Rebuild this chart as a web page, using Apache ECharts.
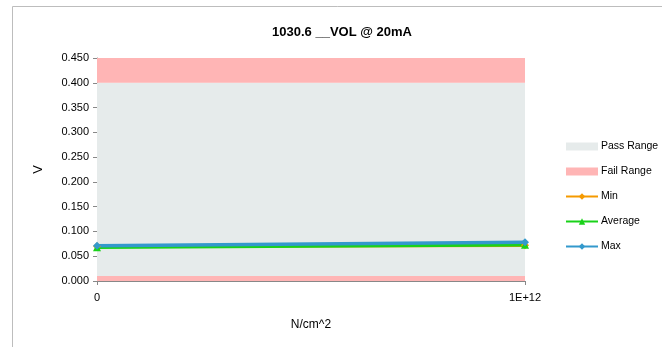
<!DOCTYPE html>
<html>
<head>
    <meta charset='utf-8'>
    <script src="https://cdn.jsdelivr.net/npm/echarts@6/dist/echarts.min.js"></script>
</head>
<body>
<style>
    html, body, #main {
        width: 100%;
        height: 100%;
        margin: 0;
        padding: 0;
        background: #fff;
    }
</style>
<div id="main"></div>
<script>
    var categories = ['0', '1E+12'];
    var failLow = [0.01, 0.01];
    var passBand = [0.39, 0.39];
    var failHigh = [0.05, 0.05];
    var minVals = [0.070, 0.072];
    var avgVals = [0.068, 0.073];
    var maxVals = [0.071, 0.078];

    var chart = echarts.init(document.getElementById('main'));

    var font = 'Liberation Sans';

    function band(name, data, color) {
        return {
            name: name,
            type: 'line',
            stack: 'range',
            data: data,
            symbol: 'none',
            lineStyle: { width: 0 },
            areaStyle: { color: color, opacity: 1 },
            itemStyle: { color: color },
            silent: true,
            z: 1
        };
    }

    function line(name, data, color, symbol) {
        return {
            name: name,
            type: 'line',
            data: data,
            symbol: symbol,
            symbolSize: 8,
            lineStyle: { width: 3.5, color: color },
            itemStyle: { color: color },
            z: 3
        };
    }

    chart.setOption({
        animation: false,
        title: {
            text: '1030.6 __VOL @ 20mA',
            left: 337,
            textAlign: 'center',
            top: 21,
            textStyle: { fontFamily: font, fontSize: 13, fontWeight: 'bold', color: '#000' }
        },
        graphic: [{
            type: 'polyline',
            shape: { points: [[12.5, 347], [12.5, 6.5], [662, 6.5]] },
            style: { stroke: '#bdbdbd', fill: null, lineWidth: 1 }
        }],
        legend: {
            orient: 'vertical',
            left: 560,
            top: 136,
            itemGap: 14,
            itemWidth: 32,
            itemHeight: 8,
            textStyle: { fontFamily: font, fontSize: 10.5, color: '#000', padding: [0, 0, 0, -2] },
            data: [
                { name: 'Pass Range', icon: 'rect' },
                { name: 'Fail Range', icon: 'rect' },
                'Min', 'Average', 'Max'
            ]
        },
        grid: {
            left: 97,
            right: 138,
            top: 58,
            bottom: 66
        },
        xAxis: {
            type: 'category',
            data: categories,
            boundaryGap: false,
            name: 'N/cm^2',
            nameLocation: 'middle',
            nameGap: 38,
            nameTextStyle: { fontFamily: font, fontSize: 12, color: '#000' },
            axisLine: { lineStyle: { color: '#888' } },
            axisTick: { show: true, length: 4, lineStyle: { color: '#888' } },
            axisLabel: { fontFamily: font, fontSize: 11, color: '#000', margin: 11 },
            splitLine: { show: false }
        },
        yAxis: {
            type: 'value',
            min: 0,
            max: 0.45,
            interval: 0.05,
            name: 'V',
            nameLocation: 'middle',
            nameGap: 52,
            nameTextStyle: { fontFamily: font, fontSize: 13, color: '#000' },
            axisLine: { show: true, lineStyle: { color: '#888' } },
            axisTick: { show: true, length: 4, lineStyle: { color: '#888' } },
            axisLabel: {
                fontFamily: font, fontSize: 11, color: '#000', margin: 8,
                formatter: function (v) { return v.toFixed(3); }
            },
            splitLine: { show: false }
        },
        series: [
            band('Fail Range', failLow, '#ffb5b5'),
            band('Pass Range', passBand, '#e6ebeb'),
            band('Fail Range', failHigh, '#ffb5b5'),
            line('Min', minVals, '#f59a00', 'diamond'),
            line('Average', avgVals, '#19d219', 'triangle'),
            line('Max', maxVals, '#3399cc', 'diamond')
        ]
    });
</script>
</body>
</html>
